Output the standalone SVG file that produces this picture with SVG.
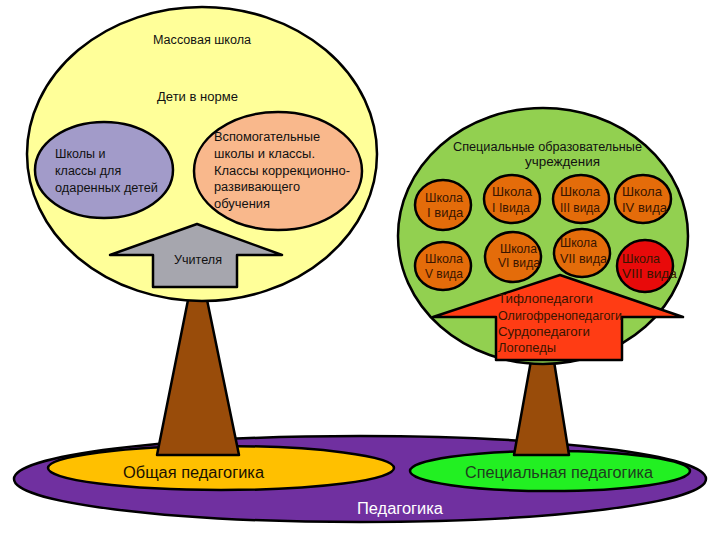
<svg xmlns="http://www.w3.org/2000/svg" width="720" height="540" viewBox="0 0 720 540">
<style>
  .o{stroke:#000;stroke-width:2.5;stroke-linejoin:round}
  .t{font-family:"Liberation Sans",Arial,sans-serif;font-size:12.5px;fill:#111}
  .s{font-family:"Liberation Sans",Arial,sans-serif;font-size:13px;fill:#3a1500}
  .g{font-family:"Liberation Sans",Arial,sans-serif;font-size:16px}
</style>
<rect width="720" height="540" fill="#fff"/>
<g id="ground">
  <ellipse id="pedagogika" class="o" cx="360" cy="479" rx="346" ry="43" fill="#7030a0"/>
  <text class="g" x="357" y="514" fill="#fff" textLength="86" lengthAdjust="spacingAndGlyphs">Педагогика</text>
  <ellipse id="obshaya" class="o" cx="221" cy="468" rx="173" ry="22" fill="#ffc000"/>
  <text class="g" x="123" y="478" fill="#1a1000" textLength="141" lengthAdjust="spacingAndGlyphs">Общая педагогика</text>
  <ellipse id="special" class="o" cx="550" cy="471" rx="140" ry="20" fill="#22f022"/>
  <text class="g" x="465" y="478" fill="#1e3d1e" textLength="188" lengthAdjust="spacingAndGlyphs">Специальная педагогика</text>
</g>
<g id="trunks">
  <polygon id="trunk-left" class="o" points="190,290 205,290 239,455 157,455" fill="#994c0a"/>
  <polygon id="trunk-right" class="o" points="532,355 553,355 569,455 514,455" fill="#994c0a"/>
</g>
<g id="tree-left">
  <ellipse id="massovaya" class="o" cx="202" cy="154" rx="175" ry="147" fill="#ffff99"/>
  <text class="t" x="153" y="44" textLength="98" lengthAdjust="spacingAndGlyphs">Массовая школа</text>
  <text class="t" x="157" y="101" textLength="81" lengthAdjust="spacingAndGlyphs">Дети в норме</text>
  <g id="odarennye">
    <ellipse class="o" cx="104" cy="170" rx="69" ry="48" fill="#a29bc9"/>
    <text class="t" font-size="13" x="55" y="158">Школы и</text>
    <text class="t" font-size="13" x="55" y="175">классы для</text>
    <text class="t" font-size="13" x="55" y="192" textLength="103" lengthAdjust="spacingAndGlyphs">одаренных детей</text>
  </g>
  <g id="vspomogatelnye">
    <ellipse class="o" cx="278" cy="171" rx="84" ry="59" fill="#f9b88c"/>
    <text class="t" font-size="13" x="214" y="141" textLength="106" lengthAdjust="spacingAndGlyphs">Вспомогательные</text>
    <text class="t" font-size="13" x="214" y="158" textLength="101" lengthAdjust="spacingAndGlyphs">школы и классы.</text>
    <text class="t" font-size="13" x="214" y="175" textLength="136" lengthAdjust="spacingAndGlyphs">Классы коррекционно-</text>
    <text class="t" font-size="13" x="214" y="191" textLength="86" lengthAdjust="spacingAndGlyphs">развивающего</text>
    <text class="t" font-size="13" x="214" y="208" textLength="56" lengthAdjust="spacingAndGlyphs">обучения</text>
  </g>
  <g id="uchitelya">
    <polygon class="o" points="197,224 282,255 237,255 237,287 153,287 153,255 110,255" fill="#a6a6ae"/>
    <text class="t" x="174" y="264" textLength="48" lengthAdjust="spacingAndGlyphs">Учителя</text>
  </g>
</g>
<g id="tree-right">
  <ellipse id="special-inst" class="o" cx="543" cy="236" rx="145" ry="128" fill="#92d050"/>
  <text class="t" font-size="13" x="453" y="151" textLength="189" lengthAdjust="spacingAndGlyphs">Специальные образовательные</text>
  <text class="t" font-size="13" x="525" y="166" textLength="75" lengthAdjust="spacingAndGlyphs">учреждения</text>
  <g id="school-1"><ellipse class="o" cx="443" cy="205" rx="28" ry="25" fill="#e46c0a"/>
    <text class="s" x="425" y="202" textLength="38" lengthAdjust="spacingAndGlyphs">Школа</text>
    <text class="s" x="427" y="217">I вида</text></g>
  <g id="school-2"><ellipse class="o" cx="512" cy="199" rx="28" ry="24" fill="#e46c0a"/>
    <text class="s" x="492" y="196" textLength="40" lengthAdjust="spacingAndGlyphs">Школа</text>
    <text class="s" x="492" y="212" textLength="38" lengthAdjust="spacingAndGlyphs">I Iвида</text></g>
  <g id="school-3"><ellipse class="o" cx="581" cy="199" rx="28" ry="24" fill="#e46c0a"/>
    <text class="s" x="560" y="196" textLength="40" lengthAdjust="spacingAndGlyphs">Школа</text>
    <text class="s" x="560" y="212" textLength="40" lengthAdjust="spacingAndGlyphs">III вида</text></g>
  <g id="school-4"><ellipse class="o" cx="643" cy="199" rx="28" ry="24" fill="#e46c0a"/>
    <text class="s" x="622" y="196" textLength="40" lengthAdjust="spacingAndGlyphs">Школа</text>
    <text class="s" x="622" y="212" textLength="45" lengthAdjust="spacingAndGlyphs">IV вида</text></g>
  <g id="school-5"><ellipse class="o" cx="443" cy="266" rx="28" ry="24" fill="#e46c0a"/>
    <text class="s" x="425" y="263" textLength="38" lengthAdjust="spacingAndGlyphs">Школа</text>
    <text class="s" x="425" y="278" textLength="38" lengthAdjust="spacingAndGlyphs">V вида</text></g>
  <g id="school-6"><ellipse class="o" cx="513" cy="257" rx="28" ry="25" fill="#e46c0a"/>
    <text class="s" x="500" y="253" textLength="37" lengthAdjust="spacingAndGlyphs">Школа</text>
    <text class="s" x="498" y="267" textLength="42" lengthAdjust="spacingAndGlyphs">VI вида</text></g>
  <g id="school-7"><ellipse class="o" cx="582" cy="253" rx="28" ry="24" fill="#e46c0a"/>
    <text class="s" x="560" y="247" textLength="37" lengthAdjust="spacingAndGlyphs">Школа</text>
    <text class="s" x="560" y="263" textLength="47" lengthAdjust="spacingAndGlyphs">VII вида</text></g>
  <g id="school-8"><ellipse class="o" cx="645" cy="266" rx="28" ry="26" fill="#e80a0a"/>
    <text class="s" x="622" y="263" fill="#8a1010" textLength="38" lengthAdjust="spacingAndGlyphs">Школа</text>
    <text class="s" x="622" y="278" fill="#8a1010" textLength="55" lengthAdjust="spacingAndGlyphs">VIII вида</text></g>
  <g id="specialists">
    <polygon class="o" points="560,275 683,317 622,317 622,360 496,360 496,317 433,317" fill="#ff3c14"/>
    <text class="s" fill="#2a0800" x="498" y="303" textLength="95" lengthAdjust="spacingAndGlyphs">Тифлопедагоги</text>
    <text class="s" fill="#2a0800" x="498" y="320" textLength="124" lengthAdjust="spacingAndGlyphs">Олигофренопедагоги</text>
    <text class="s" fill="#2a0800" x="498" y="336" textLength="92" lengthAdjust="spacingAndGlyphs">Сурдопедагоги</text>
    <text class="s" fill="#2a0800" x="498" y="352" textLength="58" lengthAdjust="spacingAndGlyphs">Логопеды</text>
  </g>
</g>
</svg>
